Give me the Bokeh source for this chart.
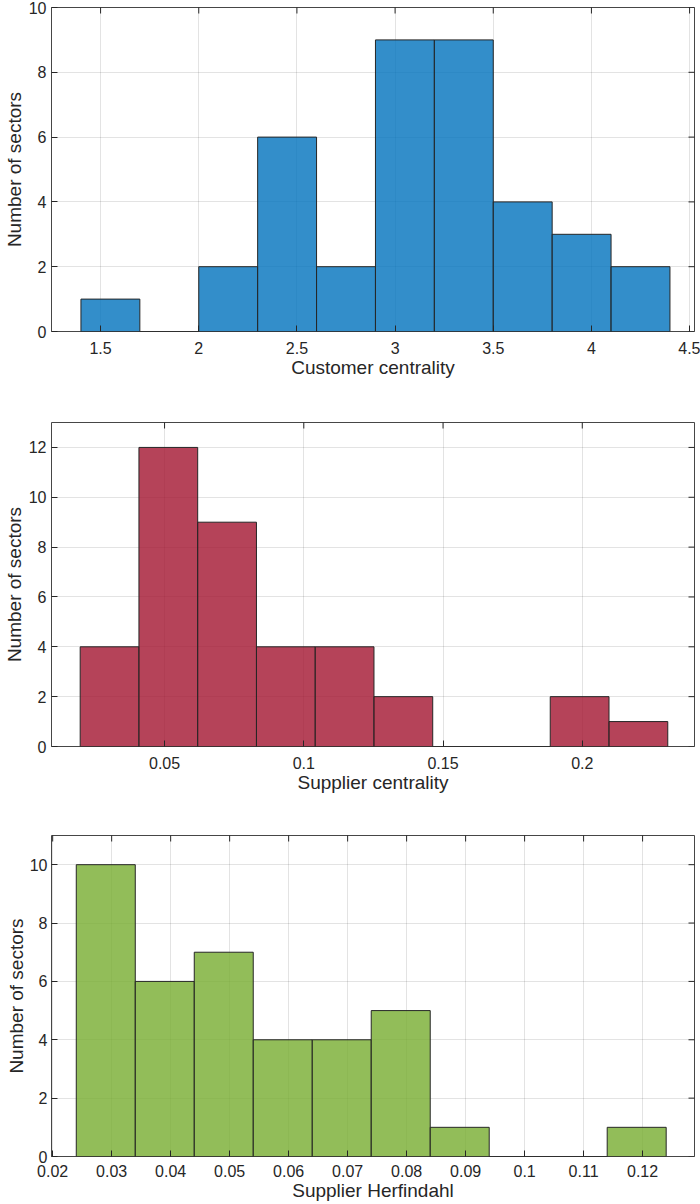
import math

from bokeh.embed import file_html
from bokeh.layouts import column
from bokeh.models import FixedTicker, Range1d
from bokeh.plotting import figure
from bokeh.resources import INLINE

# panel 1: customer centrality
customer_edges = [1.4, 1.7, 2.0, 2.3, 2.6, 2.9, 3.2, 3.5, 3.8, 4.1, 4.4]
customer_counts = [1, 0, 2, 6, 2, 9, 9, 4, 3, 2]
customer_xticks = [1.5, 2, 2.5, 3, 3.5, 4, 4.5]
customer_xlabels = ['1.5', '2', '2.5', '3', '3.5', '4', '4.5']
customer_yticks = [0, 2, 4, 6, 8, 10]

# panel 2: supplier centrality
supplier_edges = [0.0197, 0.0408, 0.0619, 0.0830, 0.1041, 0.1252,
                  0.1463, 0.1674, 0.1885, 0.2096, 0.2307]
supplier_counts = [4, 12, 9, 4, 4, 2, 0, 0, 2, 1]
supplier_xticks = [0.05, 0.1, 0.15, 0.2]
supplier_xlabels = ['0.05', '0.1', '0.15', '0.2']
supplier_yticks = [0, 2, 4, 6, 8, 10, 12]

# panel 3: supplier herfindahl
herf_edges = [0.024, 0.034, 0.044, 0.054, 0.064, 0.074,
              0.084, 0.094, 0.104, 0.114, 0.124]
herf_counts = [10, 6, 7, 4, 4, 5, 1, 0, 0, 1]
herf_xticks = [0.02, 0.03, 0.04, 0.05, 0.06, 0.07, 0.08, 0.09, 0.1, 0.11, 0.12]
herf_xlabels = ['0.02', '0.03', '0.04', '0.05', '0.06', '0.07',
                '0.08', '0.09', '0.1', '0.11', '0.12']
herf_yticks = [0, 2, 4, 6, 8, 10]

FONT = 'Liberation Sans'
INK = '#262626'


def style_axis(axis, ticks, labels=None):
    axis.ticker = FixedTicker(ticks=ticks)
    if labels is not None:
        axis.major_label_overrides = dict(zip(ticks, labels))
    axis.major_tick_in = 6
    axis.major_tick_out = 0
    axis.major_tick_line_color = INK
    axis.minor_tick_line_color = None
    axis.axis_line_color = None
    axis.major_label_text_font = FONT
    axis.major_label_text_font_size = '16px'
    axis.major_label_text_color = INK
    axis.axis_label_text_font = FONT
    axis.axis_label_text_font_size = '19px'
    axis.axis_label_text_font_style = 'normal'
    axis.axis_label_text_color = INK


def get_hist(edges, counts, color, x_range, y_top, xticks, xlabels, yticks,
             xlabel, height, top, bottom, left, right,
             x_standoff=10, y_standoff=5, ylabel_standoff=1):
    p = figure(
        width=700, height=height,
        x_range=Range1d(*x_range), y_range=Range1d(0, y_top),
        toolbar_location=None, output_backend='svg',
        min_border_left=left, min_border_right=right,
        min_border_top=top, min_border_bottom=bottom,
    )
    p.quad(left=edges[:-1], right=edges[1:], top=counts, bottom=0,
           fill_color=color, fill_alpha=0.8,
           line_color=INK, line_width=1)

    style_axis(p.xaxis[0], xticks, xlabels)
    style_axis(p.yaxis[0], yticks)
    p.xaxis.axis_label = xlabel
    p.yaxis.axis_label = 'Number of sectors'
    p.xaxis.major_label_standoff = x_standoff
    p.xaxis.axis_label_standoff = 0
    p.yaxis.major_label_standoff = y_standoff
    p.yaxis.axis_label_standoff = ylabel_standoff

    # inward ticks on the top and right edges of the box
    p.scatter(x=xticks, y=[y_top] * len(xticks), marker='dash', angle=math.pi / 2,
              size=12, line_color=INK, line_width=1)
    p.scatter(x=[x_range[1]] * len(yticks), y=yticks, marker='dash',
              size=12, line_color=INK, line_width=1)

    p.grid.grid_line_color = INK
    p.grid.grid_line_alpha = 0.13
    p.xgrid.ticker = FixedTicker(ticks=xticks)
    p.ygrid.ticker = FixedTicker(ticks=yticks)
    p.outline_line_color = INK
    p.outline_line_alpha = 0.85
    p.outline_line_width = 1
    p.border_fill_color = 'white'
    return p


p1 = get_hist(customer_edges, customer_counts, '#0072BD', (1.25, 4.525), 10,
              customer_xticks, customer_xlabels, customer_yticks,
              'Customer centrality', 381, 7, 50, 50, 6)
p2 = get_hist(supplier_edges, supplier_counts, '#A2142F', (0.0094, 0.2403), 13,
              supplier_xticks, supplier_xlabels, supplier_yticks,
              'Supplier centrality', 415, 41, 50, 50, 1)
p3 = get_hist(herf_edges, herf_counts, '#77AC30', (0.0198, 0.1288), 11,
              herf_xticks, herf_xlabels, herf_yticks,
              'Supplier Herfindahl', 408, 39, 48, 51, 4,
              x_standoff=8, y_standoff=4, ylabel_standoff=0)

p = column(p1, p2, p3, spacing=0)
open("out.html", "w").write(file_html(p, INLINE))
